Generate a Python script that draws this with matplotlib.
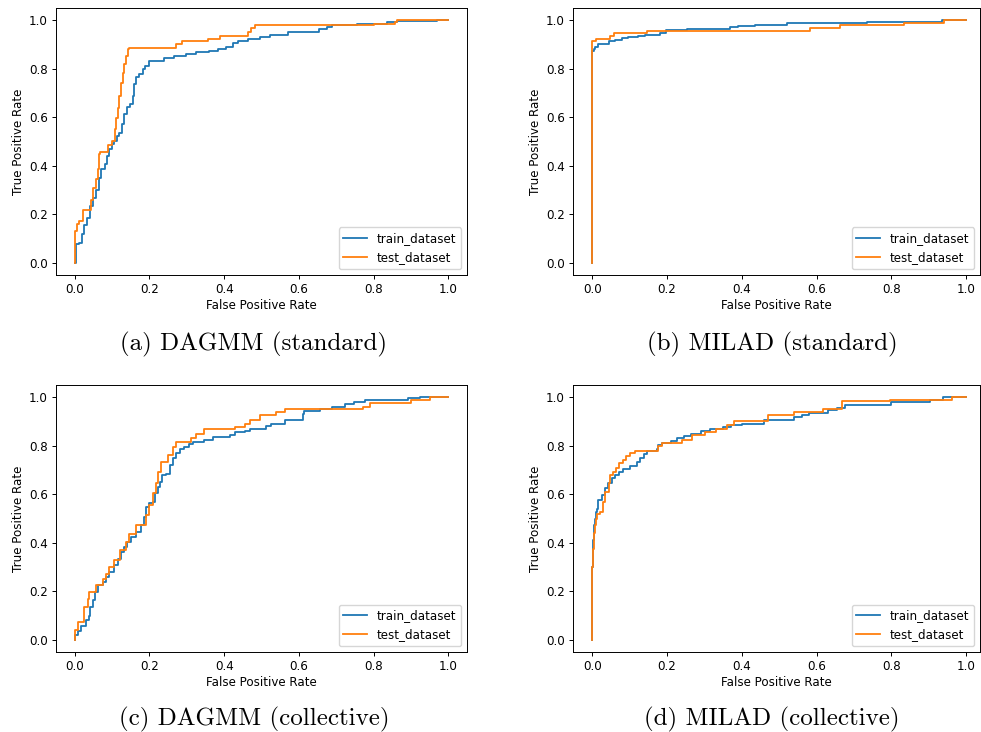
import matplotlib
matplotlib.use("Agg")
import matplotlib.pyplot as plt

# ROC points: each point = (start of a plateau, tpr level)
a_train_fpr = [0, 0.003, 0.012, 0.019, 0.025, 0.032, 0.04, 0.048, 0.057, 0.064,
               0.071, 0.08, 0.086, 0.093, 0.1, 0.106, 0.113, 0.119, 0.127, 0.133,
               0.139, 0.148, 0.155, 0.159, 0.164, 0.173, 0.182, 0.189, 0.2, 0.24,
               0.267, 0.298, 0.325, 0.36, 0.383, 0.405, 0.423, 0.437, 0.463, 0.497,
               0.523, 0.572, 0.653, 0.675, 0.688, 0.755, 0.836, 0.863, 0.97, 1.0]
a_train_tpr = [0, 0.076, 0.08, 0.117, 0.158, 0.185, 0.234, 0.268, 0.302, 0.351,
               0.385, 0.406, 0.44, 0.468, 0.488, 0.502, 0.523, 0.533, 0.571, 0.612,
               0.643, 0.654, 0.688, 0.736, 0.764, 0.78, 0.798, 0.812, 0.832, 0.843,
               0.853, 0.86, 0.867, 0.874, 0.88, 0.89, 0.904, 0.915, 0.922, 0.931,
               0.94, 0.953, 0.962, 0.972, 0.98, 0.985, 0.993, 0.998, 1.0, 1.0]

a_test_fpr = [0, 0, 0.002, 0.005, 0.012, 0.023, 0.045, 0.05, 0.057, 0.062,
              0.066, 0.069, 0.07, 0.088, 0.1, 0.109, 0.11, 0.115, 0.119, 0.125,
              0.128, 0.133, 0.137, 0.142, 0.146, 0.27, 0.287, 0.356, 0.389, 0.463,
              0.472, 0.483, 0.8, 0.857, 0.862, 1.0]
a_test_tpr = [0, 0.09, 0.13, 0.16, 0.172, 0.217, 0.261, 0.31, 0.344, 0.385,
              0.447, 0.455, 0.455, 0.486, 0.502, 0.55, 0.598, 0.64, 0.688, 0.743,
              0.784, 0.818, 0.853, 0.88, 0.887, 0.9, 0.912, 0.922, 0.933, 0.953,
              0.967, 0.979, 0.985, 0.993, 1.0, 1.0]

b_train_fpr = [0, 0, 0.003, 0.007, 0.016, 0.043, 0.06, 0.078, 0.096, 0.122,
               0.14, 0.18, 0.198, 0.252, 0.368, 0.39, 0.435, 0.475, 0.52, 0.619,
               0.735, 0.935, 1.0]
b_train_tpr = [0, 0.874, 0.88, 0.89, 0.9, 0.912, 0.92, 0.925, 0.93, 0.935,
               0.94, 0.945, 0.959, 0.965, 0.97, 0.974, 0.978, 0.98, 0.987, 0.99,
               0.994, 1.0, 1.0]

b_test_fpr = [0, 0, 0.009, 0.047, 0.057, 0.146, 0.582, 0.663, 0.834, 0.941, 1.0]
b_test_tpr = [0, 0.912, 0.922, 0.933, 0.945, 0.956, 0.967, 0.978, 0.989, 1.0, 1.0]

c_train_fpr = [0, 0.002, 0.008, 0.017, 0.03, 0.037, 0.042, 0.048, 0.055, 0.062,
               0.075, 0.084, 0.093, 0.106, 0.115, 0.124, 0.133, 0.141, 0.15, 0.164,
               0.177, 0.186, 0.191, 0.2, 0.21, 0.216, 0.222, 0.228, 0.235, 0.244,
               0.255, 0.262, 0.271, 0.282, 0.293, 0.307, 0.316, 0.347, 0.371, 0.415,
               0.43, 0.455, 0.47, 0.512, 0.525, 0.563, 0.612, 0.615, 0.657, 0.69,
               0.723, 0.748, 0.777, 0.893, 0.924, 0.95, 1.0]
c_train_tpr = [0, 0.018, 0.038, 0.059, 0.08, 0.1, 0.135, 0.163, 0.197, 0.225,
               0.239, 0.259, 0.28, 0.307, 0.335, 0.362, 0.383, 0.403, 0.424, 0.445,
               0.472, 0.507, 0.548, 0.562, 0.569, 0.603, 0.631, 0.652, 0.679, 0.682,
               0.72, 0.748, 0.769, 0.786, 0.796, 0.806, 0.814, 0.824, 0.835, 0.845,
               0.855, 0.862, 0.868, 0.88, 0.888, 0.905, 0.93, 0.944, 0.952, 0.96,
               0.972, 0.982, 0.989, 0.995, 1.0, 1.0, 1.0]

c_test_fpr = [0, 0, 0.008, 0.026, 0.035, 0.039, 0.057, 0.075, 0.084, 0.093,
              0.106, 0.12, 0.137, 0.146, 0.164, 0.191, 0.198, 0.209, 0.218, 0.222,
              0.231, 0.249, 0.262, 0.271, 0.312, 0.325, 0.347, 0.43, 0.455, 0.47,
              0.496, 0.539, 0.563, 0.772, 0.79, 0.9, 0.95, 1.0]
c_test_tpr = [0, 0.04, 0.073, 0.135, 0.169, 0.197, 0.228, 0.252, 0.273, 0.3,
              0.328, 0.369, 0.403, 0.438, 0.472, 0.514, 0.555, 0.603, 0.645, 0.693,
              0.734, 0.762, 0.796, 0.814, 0.831, 0.848, 0.868, 0.876, 0.89, 0.905,
              0.926, 0.937, 0.95, 0.96, 0.977, 0.988, 1.0, 1.0]

d_train_fpr = [0, 0, 0.001, 0.002, 0.003, 0.005, 0.007, 0.01, 0.012, 0.016,
               0.025, 0.034, 0.041, 0.052, 0.061, 0.07, 0.083, 0.101, 0.119, 0.128,
               0.137, 0.146, 0.172, 0.176, 0.186, 0.209, 0.227, 0.245, 0.263, 0.29,
               0.315, 0.35, 0.37, 0.4, 0.46, 0.538, 0.56, 0.58, 0.63, 0.655,
               0.676, 0.8, 0.904, 0.938, 1.0]
d_train_tpr = [0, 0.3, 0.36, 0.41, 0.445, 0.475, 0.5, 0.525, 0.541, 0.576,
               0.596, 0.624, 0.645, 0.665, 0.679, 0.69, 0.704, 0.716, 0.731, 0.748,
               0.764, 0.778, 0.785, 0.803, 0.81, 0.819, 0.83, 0.84, 0.85, 0.86,
               0.868, 0.876, 0.885, 0.89, 0.905, 0.918, 0.927, 0.935, 0.945, 0.955,
               0.969, 0.982, 0.99, 1.0, 1.0]

d_test_fpr = [0, 0, 0.001, 0.002, 0.003, 0.005, 0.007, 0.01, 0.012, 0.02,
              0.027, 0.034, 0.043, 0.047, 0.056, 0.063, 0.071, 0.083, 0.089, 0.101,
              0.114, 0.176, 0.186, 0.239, 0.266, 0.302, 0.33, 0.36, 0.38, 0.471,
              0.538, 0.618, 0.667, 0.797, 0.962, 1.0]
d_test_tpr = [0, 0.3, 0.34, 0.375, 0.403, 0.44, 0.472, 0.5, 0.52, 0.527,
              0.569, 0.61, 0.645, 0.679, 0.693, 0.709, 0.727, 0.741, 0.759, 0.769,
              0.779, 0.799, 0.81, 0.823, 0.844, 0.858, 0.87, 0.885, 0.9, 0.927,
              0.938, 0.952, 0.983, 0.99, 1.0, 1.0]

panels = [
    ("(a) DAGMM (standard)", a_train_fpr, a_train_tpr, a_test_fpr, a_test_tpr),
    ("(b) MILAD (standard)", b_train_fpr, b_train_tpr, b_test_fpr, b_test_tpr),
    ("(c) DAGMM (collective)", c_train_fpr, c_train_tpr, c_test_fpr, c_test_tpr),
    ("(d) MILAD (collective)", d_train_fpr, d_train_tpr, d_test_fpr, d_test_tpr),
]

W, H = 981, 732
fs = 8.6
plt.rcParams["font.size"] = fs
plt.rcParams["axes.linewidth"] = 0.7
plt.rcParams["xtick.major.width"] = 0.7
plt.rcParams["ytick.major.width"] = 0.7
plt.rcParams["xtick.major.size"] = 3
plt.rcParams["ytick.major.size"] = 3

fig = plt.figure(figsize=(W / 100, H / 100), dpi=100)

# axes boxes in pixels: left, top, right, bottom
boxes = [(56, 8, 467, 275), (573, 8, 980, 275),
         (56, 385, 467, 652), (573, 385, 980, 652)]
xlims = [(-0.05, 1.05), (-0.052, 1.037), (-0.05, 1.05), (-0.052, 1.037)]
caps = [(254, 344), (772, 344), (254, 719), (772, 719)]

for i, (cap, trx, trY, tex, teY) in enumerate(panels):
    l, t, r, b = boxes[i]
    ax = fig.add_axes([l / W, 1 - b / H, (r - l) / W, (b - t) / H])
    ax.plot(trx, trY, drawstyle="steps-post", color="#1f77b4", lw=1.3, label="train_dataset")
    ax.plot(tex, teY, drawstyle="steps-post", color="#ff7f0e", lw=1.3, label="test_dataset")
    ax.set_xlim(*xlims[i])
    ax.set_ylim(-0.05, 1.05)
    ax.set_xticks([0, 0.2, 0.4, 0.6, 0.8, 1.0])
    ax.set_yticks([0, 0.2, 0.4, 0.6, 0.8, 1.0])
    ax.tick_params(labelsize=fs, pad=3)
    ax.set_xlabel("False Positive Rate", fontsize=fs, labelpad=2)
    ax.set_ylabel("True Positive Rate", fontsize=fs, labelpad=3)
    ax.legend(loc="lower right", fontsize=fs)
    fig.text(caps[i][0] / W, 1 - caps[i][1] / H, cap, ha="center", va="center",
             fontsize=18, family="cmr10")

fig.savefig("out.png", dpi=100)
